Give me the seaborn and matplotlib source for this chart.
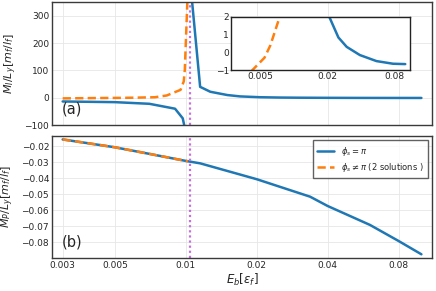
import numpy as np
import matplotlib
matplotlib.use("Agg")
import matplotlib.pyplot as plt
import seaborn as sns
from matplotlib.ticker import FixedLocator, NullLocator, FixedFormatter

# --- data ---
# panel (a): M_I / L_y, phi_s = pi  (two branches either side of the transition)
eb_blue_a1 = [0.003, 0.005, 0.007, 0.009, 0.0097, 0.0099]
mi_blue_a1 = [-13.5, -16.0, -22.0, -40.0, -75.0, -110.0]
eb_blue_a2 = [0.0105, 0.0115, 0.0127, 0.015, 0.017, 0.0207, 0.025, 0.0297,
              0.039, 0.055, 0.0776, 0.1]
mi_blue_a2 = [400.0, 40.0, 22.0, 10.0, 5.0, 2.0, 0.84, 0.31,
              -0.15, -0.49, -0.64, -0.66]

# panel (a): phi_s != pi
eb_orange_a = [0.003, 0.0042, 0.0054, 0.0061, 0.0074, 0.0083, 0.0095,
               0.0098, 0.0099, 0.0102]
mi_orange_a = [-2.2, -1.0, -0.3, 0.4, 2.0, 8.4, 29.0, 60.0, 102.0, 400.0]

# panel (b): M_P / L_y
eb_blue_b = [0.003, 0.005, 0.007, 0.01, 0.0115, 0.02, 0.0337, 0.04,
             0.0605, 0.08, 0.1]
mp_blue_b = [-0.0159, -0.0208, -0.0249, -0.0293, -0.0308, -0.0407,
             -0.0516, -0.0574, -0.0692, -0.0792, -0.0875]
eb_orange_b = [0.003, 0.005, 0.007, 0.01, 0.0102]
mp_orange_b = [-0.0159, -0.0208, -0.0249, -0.0293, -0.0295]

eb_transition = 0.0104

xticks = [0.003, 0.005, 0.01, 0.02, 0.04, 0.08]
xticklabels = ["0.003", "0.005", "0.01", "0.02", "0.04", "0.08"]
yticks_a = [-100, 0, 100, 200, 300]
yticks_b = [-0.02, -0.03, -0.04, -0.05, -0.06, -0.07, -0.08]
inset_xticks = [0.005, 0.01, 0.02, 0.04, 0.08]
inset_xticklabels = ["0.005", "", "0.02", "", "0.08"]
inset_yticks = [-1, 0, 1, 2]

label_blue = r"$\phi_s = \pi$"
label_orange = r"$\phi_s \neq \pi$ (2 solutions )"

BLUE = "#1f77b4"
ORANGE = "#ff7f0e"
PURPLE = "#c571dc"
FRAME = "#3a3a3a"

sns.set_theme(style="white")
plt.rcParams["font.family"] = ["DejaVu Sans"]
plt.rcParams["mathtext.fontset"] = "dejavusans"

fig = plt.figure(figsize=(4.36, 2.91), dpi=100)
ax1 = fig.add_axes([0.119, 0.570, 0.872, 0.423])
ax2 = fig.add_axes([0.119, 0.114, 0.872, 0.419])
axi = fig.add_axes([0.530, 0.759, 0.411, 0.183])

dash = (0, (3.3, 1.7))
dot = (0, (1, 1.3))
lw = 1.8

# main panel (a)
sns.lineplot(x=eb_blue_a1, y=mi_blue_a1, ax=ax1, color=BLUE, lw=lw,
             estimator=None, sort=False)
sns.lineplot(x=eb_blue_a2, y=mi_blue_a2, ax=ax1, color=BLUE, lw=lw,
             estimator=None, sort=False)
sns.lineplot(x=eb_orange_a, y=mi_orange_a, ax=ax1, color=ORANGE, lw=lw,
             linestyle=dash, estimator=None, sort=False)
ax1.axvline(eb_transition, color=PURPLE, lw=1.6, linestyle=dot)

# panel (b)
sns.lineplot(x=eb_blue_b, y=mp_blue_b, ax=ax2, color=BLUE, lw=lw,
             estimator=None, sort=False, label=label_blue)
sns.lineplot(x=eb_orange_b, y=mp_orange_b, ax=ax2, color=ORANGE, lw=lw,
             linestyle=dash, estimator=None, sort=False, label=label_orange)
ax2.axvline(eb_transition, color=PURPLE, lw=1.6, linestyle=dot)

# inset
sns.lineplot(x=eb_blue_a1, y=mi_blue_a1, ax=axi, color=BLUE, lw=lw,
             estimator=None, sort=False)
sns.lineplot(x=eb_blue_a2, y=mi_blue_a2, ax=axi, color=BLUE, lw=lw,
             estimator=None, sort=False)
sns.lineplot(x=eb_orange_a, y=mi_orange_a, ax=axi, color=ORANGE, lw=lw,
             linestyle=dash, estimator=None, sort=False)

xlim = (0.0027, 0.111)
for ax in (ax1, ax2, axi):
    ax.set_xscale("log")
    ax.set_xlim(*xlim)
    ax.xaxis.set_minor_locator(NullLocator())
    ax.yaxis.set_minor_locator(NullLocator())
    ax.tick_params(direction="in", length=3, width=0.8, color=FRAME,
                   labelsize=6.5, pad=2)
    for s in ax.spines.values():
        s.set_visible(True)
        s.set_color(FRAME)
        s.set_linewidth(1.0)
    ax.set_xlabel("")
    ax.set_ylabel("")

for ax in (ax1, ax2):
    ax.xaxis.set_major_locator(FixedLocator(xticks))
    ax.xaxis.set_major_formatter(FixedFormatter(xticklabels))
    ax.grid(True, color="#e6e6e6", lw=0.6)
    ax.set_axisbelow(True)
    ax.tick_params(top=False, right=False)

ax1.set_ylim(-100, 350)
ax1.set_yticks(yticks_a)
ax1.set_yticklabels([str(v).replace("-", "\u2212") for v in yticks_a])
ax1.tick_params(labelbottom=False)
ax1.set_ylabel(r"$M_I/L_y[m_f/l_f]$", fontsize=8, labelpad=4)
ax1.text(0.025, 0.07, "(a)", transform=ax1.transAxes, fontsize=10.5,
         ha="left", va="bottom")

ax2.set_ylim(-0.0897, -0.0137)
ax2.set_yticks(yticks_b)
ax2.set_yticklabels([f"{v:.2f}".replace("-", "\u2212") for v in yticks_b])
ax2.set_ylabel(r"$M_P/L_y[m_f/l_f]$", fontsize=8, labelpad=4)
ax2.set_xlabel(r"$E_b[\varepsilon_f]$", fontsize=8.5, labelpad=2)
ax2.text(0.025, 0.07, "(b)", transform=ax2.transAxes, fontsize=10.5,
         ha="left", va="bottom")
leg = ax2.legend(loc="upper right", fontsize=6, frameon=True, fancybox=False,
                 borderaxespad=0.5, handlelength=2.0, borderpad=0.55,
                 labelspacing=0.35, handletextpad=0.8)
leg.get_frame().set_edgecolor(FRAME)
leg.get_frame().set_linewidth(1.0)

axi.set_ylim(-1, 2)
axi.set_yticks(inset_yticks)
axi.set_yticklabels([str(v).replace("-", "\u2212") for v in inset_yticks])
axi.xaxis.set_major_locator(FixedLocator(inset_xticks))
axi.xaxis.set_major_formatter(FixedFormatter(inset_xticklabels))
axi.set_facecolor("white")
axi.tick_params(labelsize=6.5, pad=1.5)
for s in axi.spines.values():
    s.set_color("#222222")

fig.savefig("out.png", dpi=100)
